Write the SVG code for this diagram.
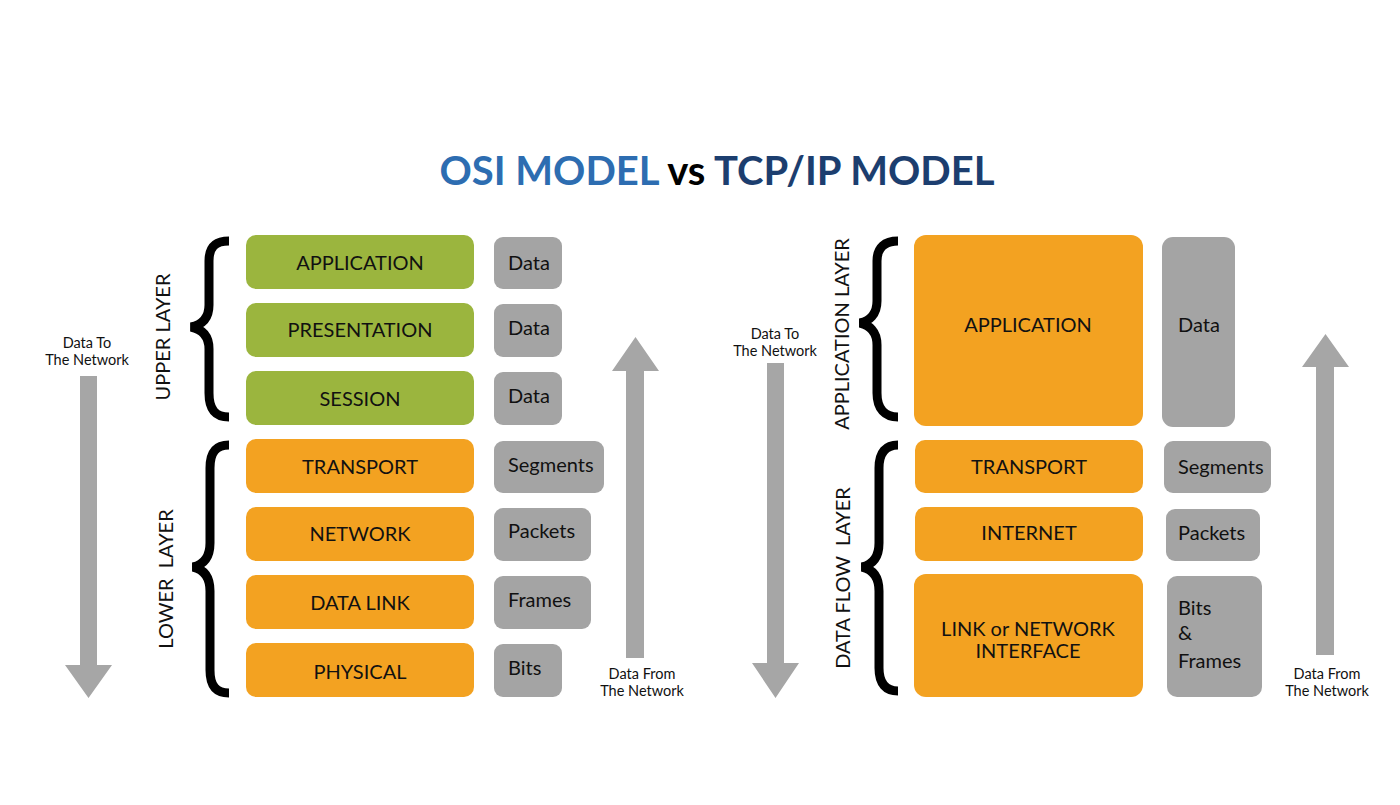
<svg xmlns="http://www.w3.org/2000/svg" width="1400" height="805" viewBox="0 0 1400 805">
<style>
  .lbl{font-family:Lato,"Noto Sans","Liberation Sans",sans-serif;font-size:20px;fill:#111;text-anchor:middle;dominant-baseline:central}
  .gl{font-family:Lato,"Noto Sans","Liberation Sans",sans-serif;font-size:20px;fill:#111;dominant-baseline:central}
  .side{font-family:Lato,"Noto Sans","Liberation Sans",sans-serif;font-size:20px;fill:#111;text-anchor:middle;dominant-baseline:central;white-space:pre}
  .small{font-family:Lato,"Noto Sans","Liberation Sans",sans-serif;font-size:14.5px;fill:#111;text-anchor:middle}
  .green{fill:#9bb53e}
  .orange{fill:#f3a221}
  .gray{fill:#a4a4a4}
  .arrow{fill:#a6a6a6}
  .brace{fill:none;stroke:#000;stroke-width:9}
</style>
<rect width="1400" height="805" fill="#fff"/>

<g id="title">
  <text x="717" y="185" font-family="Lato,'Noto Sans','Liberation Sans',sans-serif" font-size="40" font-weight="bold" text-anchor="middle"><tspan fill="#2d6db1">OSI MODEL</tspan><tspan fill="#000"> vs </tspan><tspan fill="#1c3e6f">TCP/IP MODEL</tspan></text>
</g>

<!-- OSI model -->
<g id="osi-upper-brace">
  <path class="brace" d="M229 241 C215 241 209 247 209 261 L209 305 C209 319 201 325 191 327 C201 329 209 335 209 349 L209 393 C209 409 215 417 229 417"/>
  <text class="side" transform="translate(162 337) rotate(-90)">UPPER LAYER</text>
</g>
<g id="osi-lower-brace">
  <path class="brace" d="M229 445 C216 445 210 452 210 468 L210 543 C210 559 202 565 193 567 C202 569 210 575 210 591 L210 670 C210 686 216 693 229 693"/>
  <text class="side" transform="translate(165 579) rotate(-90)">LOWER  LAYER</text>
</g>

<g id="osi-application"><rect class="green" x="246" y="235" width="228" height="54" rx="10"/><text class="lbl" x="360" y="262">APPLICATION</text></g>
<g id="osi-presentation"><rect class="green" x="246" y="303" width="228" height="54" rx="10"/><text class="lbl" x="360" y="329">PRESENTATION</text></g>
<g id="osi-session"><rect class="green" x="246" y="371" width="228" height="54" rx="10"/><text class="lbl" x="360" y="398">SESSION</text></g>
<g id="osi-transport"><rect class="orange" x="246" y="439" width="228" height="54" rx="10"/><text class="lbl" x="360" y="466">TRANSPORT</text></g>
<g id="osi-network"><rect class="orange" x="246" y="507" width="228" height="54" rx="10"/><text class="lbl" x="360" y="533">NETWORK</text></g>
<g id="osi-datalink"><rect class="orange" x="246" y="575" width="228" height="54" rx="10"/><text class="lbl" x="360" y="602">DATA LINK</text></g>
<g id="osi-physical"><rect class="orange" x="246" y="643" width="228" height="54" rx="10"/><text class="lbl" x="360" y="671">PHYSICAL</text></g>

<g id="osi-pdu-data1"><rect class="gray" x="494" y="237" width="68" height="52" rx="9"/><text class="gl" x="508" y="262">Data</text></g>
<g id="osi-pdu-data2"><rect class="gray" x="494" y="304" width="68" height="53" rx="9"/><text class="gl" x="508" y="327">Data</text></g>
<g id="osi-pdu-data3"><rect class="gray" x="494" y="372" width="68" height="53" rx="9"/><text class="gl" x="508" y="395">Data</text></g>
<g id="osi-pdu-segments"><rect class="gray" x="494" y="441" width="110" height="52" rx="9"/><text class="gl" x="508" y="464">Segments</text></g>
<g id="osi-pdu-packets"><rect class="gray" x="494" y="508" width="97" height="53" rx="9"/><text class="gl" x="508" y="530">Packets</text></g>
<g id="osi-pdu-frames"><rect class="gray" x="494" y="576" width="97" height="53" rx="9"/><text class="gl" x="508" y="599">Frames</text></g>
<g id="osi-pdu-bits"><rect class="gray" x="494" y="644" width="68" height="53" rx="9"/><text class="gl" x="508" y="667">Bits</text></g>

<!-- TCP/IP model -->
<g id="tcp-upper-brace">
  <path class="brace" d="M898 241 C885 241 877 247 877 261 L877 301 C877 315 869 321 860 323 C869 325 877 331 877 345 L877 393 C877 409 885 417 898 417"/>
  <text class="side" transform="translate(841 334) rotate(-90)">APPLICATION LAYER</text>
</g>
<g id="tcp-lower-brace">
  <path class="brace" d="M898 445 C886 445 879 452 879 468 L879 543 C879 559 871 565 862 567 C871 569 879 575 879 591 L879 668 C879 684 886 691 898 691"/>
  <text class="side" transform="translate(842 578) rotate(-90)">DATA FLOW  LAYER</text>
</g>

<g id="tcp-application"><rect class="orange" x="914" y="235" width="229" height="191" rx="12"/><text class="lbl" x="1028" y="324">APPLICATION</text></g>
<g id="tcp-transport"><rect class="orange" x="915" y="440" width="228" height="53" rx="10"/><text class="lbl" x="1029" y="466">TRANSPORT</text></g>
<g id="tcp-internet"><rect class="orange" x="915" y="507" width="228" height="54" rx="10"/><text class="lbl" x="1029" y="532">INTERNET</text></g>
<g id="tcp-link"><rect class="orange" x="914" y="574" width="229" height="123" rx="12"/><text class="lbl" x="1028" y="628">LINK or NETWORK</text><text class="lbl" x="1028" y="650">INTERFACE</text></g>

<g id="tcp-pdu-data"><rect class="gray" x="1162" y="237" width="73" height="190" rx="11"/><text class="gl" x="1178" y="324">Data</text></g>
<g id="tcp-pdu-segments"><rect class="gray" x="1164" y="441" width="107" height="52" rx="9"/><text class="gl" x="1178" y="466">Segments</text></g>
<g id="tcp-pdu-packets"><rect class="gray" x="1166" y="509" width="94" height="52" rx="9"/><text class="gl" x="1178" y="532">Packets</text></g>
<g id="tcp-pdu-bits"><rect class="gray" x="1167" y="576" width="95" height="121" rx="10"/><text class="gl" x="1178" y="607">Bits</text><text class="gl" x="1178" y="632">&amp;</text><text class="gl" x="1178" y="660">Frames</text></g>

<g id="connectors">
  <g id="osi-down-arrow">
    <polygon class="arrow" points="80,376 97,376 97,665 112,665 88.5,698 65,665 80,665"/>
    <text class="small" x="87" y="348">Data To</text>
    <text class="small" x="87" y="365">The Network</text>
  </g>
  <g id="osi-up-arrow">
    <polygon class="arrow" points="626,658 644,658 644,371 659,371 635.5,337 612,371 626,371"/>
    <text class="small" x="642" y="679">Data From</text>
    <text class="small" x="642" y="696">The Network</text>
  </g>
  <g id="tcp-down-arrow">
    <polygon class="arrow" points="767,363 784,363 784,663 799,663 775.5,698 752,663 767,663"/>
    <text class="small" x="775" y="339">Data To</text>
    <text class="small" x="775" y="356">The Network</text>
  </g>
  <g id="tcp-up-arrow">
    <polygon class="arrow" points="1316,655 1334,655 1334,367 1349,367 1325.5,334 1302,367 1316,367"/>
    <text class="small" x="1327" y="679">Data From</text>
    <text class="small" x="1327" y="696">The Network</text>
  </g>
</g>
</svg>
